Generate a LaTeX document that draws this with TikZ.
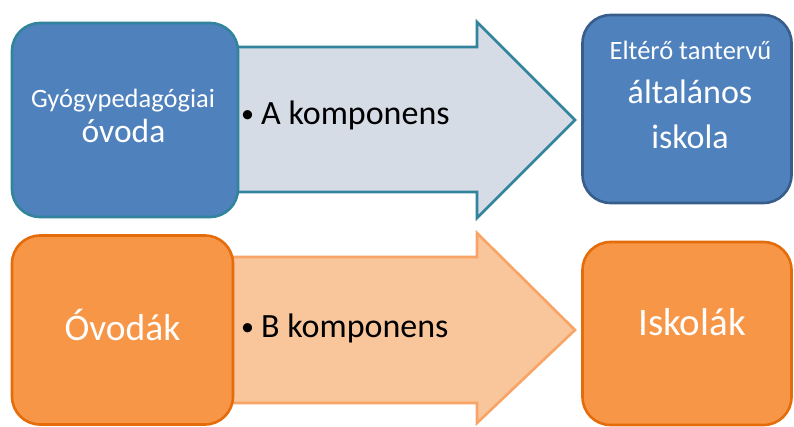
\documentclass[tikz,border=0pt]{standalone}
\usepackage{fontspec}
\setmainfont{Carlito}
\definecolor{boxblue}{HTML}{4F81BD}
\definecolor{tealline}{HTML}{31849B}
\definecolor{blueline}{HTML}{385D8A}
\definecolor{arrowA}{HTML}{D6DCE6}
\definecolor{boxorange}{HTML}{F79646}
\definecolor{orangeline}{HTML}{E46C0A}
\definecolor{arrowB}{HTML}{F9C59A}
\definecolor{arrowBline}{HTML}{F8A466}
\tikzset{
  box/.style={rounded corners=28, line width=2.6, inner sep=0, align=center, text=white},
  bluebox/.style={box, fill=boxblue},
  orangebox/.style={box, fill=boxorange, draw=orangeline},
  lbl/.style={anchor=base west, inner sep=0, text=black, font=\fontsize{34}{40}\selectfont},
  small/.style={font=\fontsize{26.5}{30}\selectfont},
}
\newcommand{\smbullet}{{\fontsize{26}{30}\selectfont\raisebox{2pt}{\textbullet}}\hspace{7pt}}
\begin{document}
\begin{tikzpicture}[x=1pt, y=-1pt]
\useasboundingbox (0,0) rectangle (794,426);
% arrows
\draw[line width=2.6, draw=tealline, fill=arrowA, line join=miter]
  (200,47) -- (477,47) -- (477,22) -- (575,120) -- (477,218) -- (477,192) -- (200,192) -- cycle;
\draw[line width=2.6, draw=arrowBline, fill=arrowB, line join=miter]
  (200,257) -- (477,257) -- (477,233) -- (575,330) -- (477,423) -- (477,403) -- (200,403) -- cycle;
% boxes
\node[bluebox, draw=tealline, minimum width=226, minimum height=194] (gyo) at (125,120) {};
\node[bluebox, draw=blueline, minimum width=209, minimum height=188] (elt) at (687,109) {};
\node[orangebox, minimum width=221, minimum height=189] (ovo) at (122.5,330) {};
\node[orangebox, minimum width=209, minimum height=183] (isk) at (687,333.5) {};
% box texts
\node[anchor=base, inner sep=0, text=white, small] (t1) at (123,107) {Gyógypedagógiai};
\node[anchor=base, inner sep=0, text=white, font=\fontsize{33.5}{40}\selectfont] (t2) at (123.5,142) {óvoda};
\node[anchor=base, inner sep=0, text=white, small] (t3) at (690.5,59) {Eltérő tantervű};
\node[anchor=base, inner sep=0, text=white, font=\fontsize{34}{40}\selectfont] (t4) at (690,103) {általános};
\node[anchor=base, inner sep=0, text=white, font=\fontsize{34}{40}\selectfont] (t5) at (690,148) {iskola};
\node[anchor=base, inner sep=0, text=white, font=\fontsize{37.5}{44}\selectfont] (t6) at (122.5,340) {Óvodák};
\node[anchor=base, inner sep=0, text=white, font=\fontsize{39}{44}\selectfont] (t7) at (692,335) {Iskolák};
% arrow labels
\node[lbl] (la) at (241,124) {\smbullet A komponens};
\node[lbl] (lb) at (241,337) {\smbullet B komponens};
\end{tikzpicture}
\end{document}
